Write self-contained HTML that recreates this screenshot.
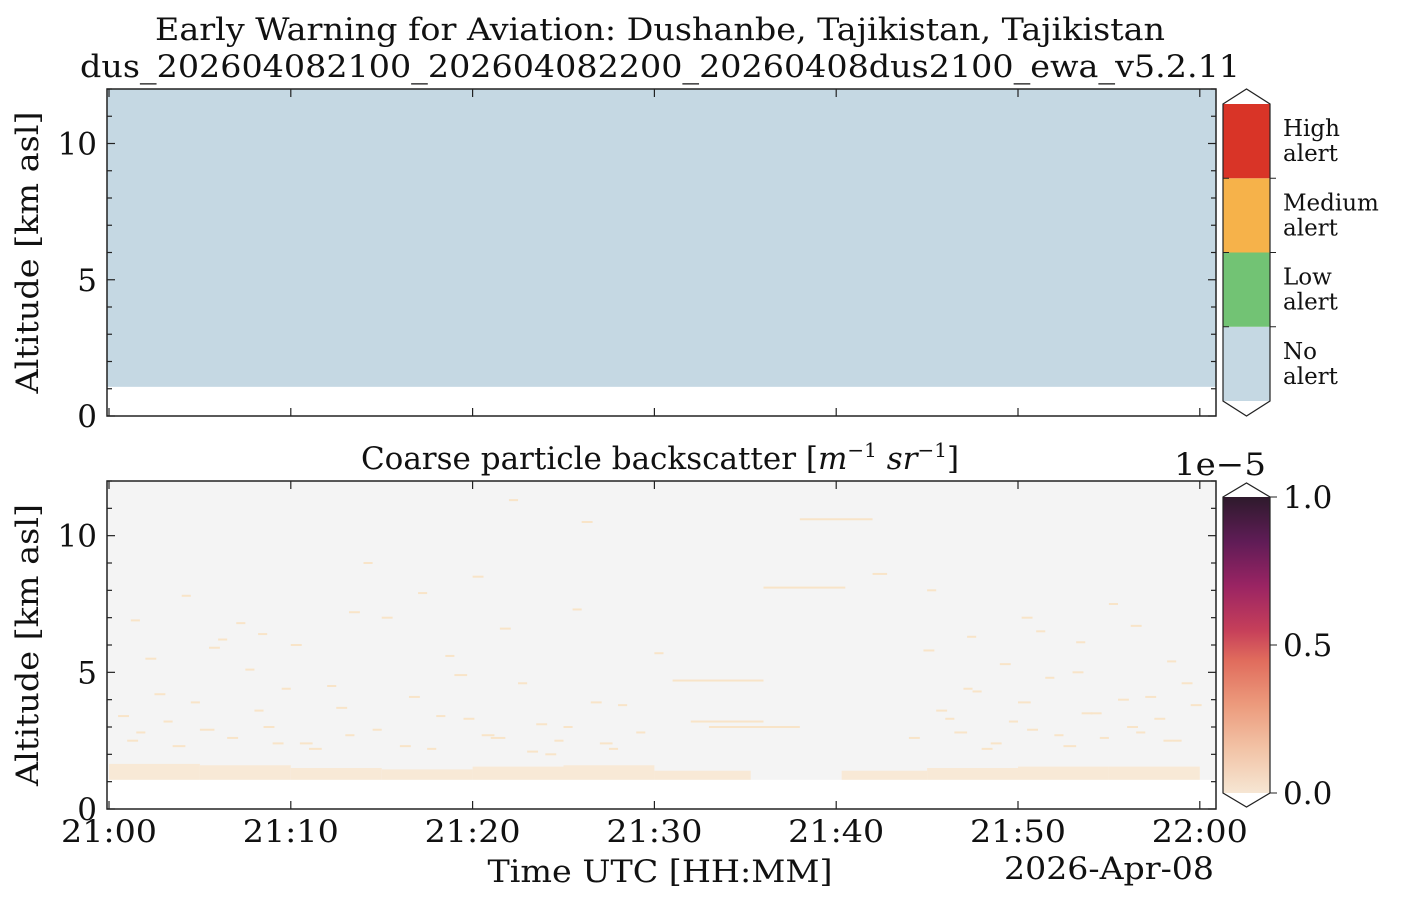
<!DOCTYPE html>
<html><head><meta charset="utf-8">
<style>
body{margin:0;background:#fff;width:1401px;height:904px;overflow:hidden}
svg text{font-family:"DejaVu Serif","Liberation Serif",serif;fill:#111}
</style></head>
<body>
<svg id="fig" width="1401" height="904" xmlns="http://www.w3.org/2000/svg">
<text x="660" y="40" font-size="31" text-anchor="middle" textLength="1010" lengthAdjust="spacingAndGlyphs">Early Warning for Aviation: Dushanbe, Tajikistan, Tajikistan</text>
<text x="660" y="77" font-size="31" text-anchor="middle" textLength="1160" lengthAdjust="spacingAndGlyphs">dus_202604082100_202604082200_20260408dus2100_ewa_v5.2.11</text>
<text x="660" y="469" font-size="31" text-anchor="middle">Coarse particle backscatter [<tspan font-style="italic">m</tspan><tspan font-size="20" dy="-12">−1</tspan><tspan dy="12"> </tspan><tspan font-style="italic">sr</tspan><tspan font-size="20" dy="-12">−1</tspan><tspan dy="12">]</tspan></text>
<g id="top"></g>
<g id="bot"></g>
<g id="cb1"></g>
<g id="cb2"></g>
<text x="660" y="882" font-size="31" text-anchor="middle" textLength="345" lengthAdjust="spacingAndGlyphs">Time UTC [HH:MM]</text>
<text x="1214" y="879" font-size="31" text-anchor="end" textLength="210" lengthAdjust="spacingAndGlyphs">2026-Apr-08</text>
<text x="1266" y="475" font-size="31" text-anchor="end" textLength="92" lengthAdjust="spacingAndGlyphs">1e−5</text>
</svg>
<script>
// data
const xTickLabels=["21:00","21:10","21:20","21:30","21:40","21:50","22:00"];
const xTickMinutes=[0,10,20,30,40,50,60];
const yTicks=[0,5,10];
const alertCategories=["No\nalert","Low\nalert","Medium\nalert","High\nalert"];
const alertColors=["#c5d8e3","#72c374","#f6b24a","#d93427"];
const alertLevelBase=1.07;
const alertLevel=[0];
const cbTicks=[0,0.5,1.0];
const cbTickLabels=["0.0","0.5","1.0"];
// near-surface aerosol layer: time bin start (min), layer top (km)
const layerTimes=[0,5,10,15,20,25,30,35.3,40.3,45,50,55,60];
const layerTops=[1.65,1.6,1.5,1.45,1.55,1.6,1.4,1.07,1.4,1.5,1.55,1.55,1.5];
// sparse streaks: minute, altitude km, length min
const streakMin=[1,3,5,8,9,11,13,16,18,21,23,25,27,29,31,33,2,6,12,15,19,24,28,44,46,48,50,52,54,56,58,47,49,51,53,55,57,4,14,22,26,30,45,59,7,17,20,32,38,42,10,36,
 0.5,1.5,2.5,3.5,4.5,6.5,7.5,8.5,9.5,10.5,12.5,14.5,16.5,17.5,19.5,20.5,22.5,23.5,24.5,26.5,27.5,45.5,46.5,47.5,48.5,49.5,50.5,51.5,52.5,53.5,54.5,55.5,56.5,57.5,58.5,59.5,1.2,5.5,8.2,13.2,18.5,21.5,25.5,44.8,47.2,50.2,53.2,56.2,58.2];
const streakAlt=[2.5,3.2,2.9,3.6,2.4,2.2,2.7,2.3,3.4,2.6,2.1,3.0,2.4,2.8,4.7,3.0,5.5,6.2,4.5,7.0,4.9,2.0,3.8,2.6,3.3,2.2,3.9,2.7,3.5,3.0,2.5,4.4,5.3,6.5,5.0,7.5,4.1,7.8,9.0,11.3,10.5,5.7,8.0,4.6,6.8,7.9,8.5,3.2,10.6,8.6,6.0,8.1,
 3.4,2.8,4.2,2.3,3.9,2.6,5.1,3.0,4.4,2.4,3.7,2.9,4.1,2.2,3.3,2.7,4.6,3.1,2.5,3.9,2.2,3.6,2.8,4.3,2.4,3.2,2.9,4.8,2.3,3.5,2.6,4.0,2.8,3.3,2.5,3.8,6.9,5.9,6.4,7.2,5.6,6.6,7.3,5.8,6.3,7.0,6.1,6.7,5.4];
const streakLen=[0.6,0.5,0.8,0.5,0.6,0.7,0.5,0.6,0.5,0.8,0.6,0.5,0.7,0.5,5,5,0.6,0.5,0.5,0.6,0.7,0.6,0.5,0.6,0.5,0.6,0.7,0.5,0.6,0.6,0.5,0.5,0.6,0.5,0.6,0.5,0.6,0.5,0.5,0.5,0.6,0.5,0.5,0.6,0.5,0.5,0.6,4,4,0.8,0.6,4.5,
 0.6,0.5,0.6,0.7,0.5,0.6,0.5,0.6,0.5,0.7,0.6,0.5,0.6,0.5,0.6,0.7,0.5,0.6,0.5,0.6,0.5,0.6,0.7,0.5,0.6,0.5,0.6,0.5,0.7,0.6,0.5,0.6,0.5,0.6,0.5,0.6,0.5,0.6,0.5,0.6,0.5,0.6,0.5,0.6,0.5,0.6,0.5,0.6,0.5];

const NS="http://www.w3.org/2000/svg";
function el(p,t,a){const e=document.createElementNS(NS,t);for(const k in a)e.setAttribute(k,a[k]);p.appendChild(e);return e;}
const X0=109,PX=18.18,AL=107,AR=1216;
const xs=m=>X0+m*PX;
function panel(top,bottom){return v=>bottom-(v/12)*(bottom-top);}
function axes(g,top,bottom,ys,labels){
  const f=el(g,"rect",{x:AL,y:top,width:AR-AL,height:bottom-top,fill:"none",stroke:"#222","stroke-width":1.5});
  
  for(let k=0;k<=12;k++){const y=ys(k);const big=k%5==0;
    el(g,"line",{x1:AL,x2:AL+(big?8:5),y1:y,y2:y,stroke:"#222","stroke-width":1.2});
    el(g,"line",{x1:AR,x2:AR-(big?8:5),y1:y,y2:y,stroke:"#222","stroke-width":1.2});}
  yTicks.forEach(v=>{const t=el(g,"text",{x:AL-10,y:ys(v)+11,"font-size":31,"text-anchor":"end"});t.textContent=v;
    });
  xTickMinutes.forEach((m,i)=>{const x=xs(m);
    el(g,"line",{x1:x,x2:x,y1:bottom,y2:bottom-8,stroke:"#222","stroke-width":1.2});
    el(g,"line",{x1:x,x2:x,y1:top,y2:top+8,stroke:"#222","stroke-width":1.2});
    if(labels){const t=el(g,"text",{x:x,y:bottom+33,"font-size":31,"text-anchor":"middle",textLength:96,lengthAdjust:"spacingAndGlyphs"});t.textContent=xTickLabels[i];
      }});
  const cy=(top+bottom)/2;
  const yl=el(g,"text",{x:38,y:cy,"font-size":31,"text-anchor":"middle",textLength:282,lengthAdjust:"spacingAndGlyphs",transform:`rotate(-90 38 ${cy})`});
  yl.textContent="Altitude [km asl]";
}
const gt=document.getElementById("top");const T1=89,B1=416;const ys1=panel(T1,B1);
const ar=el(gt,"rect",{x:AL,y:ys1(12),width:AR-AL,height:ys1(alertLevelBase)-ys1(12),fill:alertColors[alertLevel[0]]});

axes(gt,T1,B1,ys1,false);
const gb=document.getElementById("bot");const T2=481,B2=809;const ys2=panel(T2,B2);
const bg=el(gb,"rect",{x:AL,y:ys2(12),width:AR-AL,height:ys2(alertLevelBase)-ys2(12),fill:"#f4f4f4"});

for(let i=0;i<layerTimes.length-1;i++){
  if(layerTops[i]<=alertLevelBase)continue;
  const r=el(gb,"rect",{x:xs(layerTimes[i]),y:ys2(layerTops[i]),width:xs(layerTimes[i+1])-xs(layerTimes[i]),height:ys2(alertLevelBase)-ys2(layerTops[i]),fill:"#f8e9d6"});
  }
streakMin.forEach((m,i)=>{const r=el(gb,"rect",{x:xs(m),y:ys2(streakAlt[i])-1,width:streakLen[i]*PX,height:2,fill:"#f8e4c8"});
  });
axes(gb,T2,B2,ys2,true);
const c1=document.getElementById("cb1");const CX=1223,CW=47,ct=104,cbt=401;const seg=(cbt-ct)/4;
alertColors.forEach((c,i)=>{const y=cbt-(i+1)*seg;const r=el(c1,"rect",{x:CX,y:y,width:CW,height:seg,fill:c});
  
  alertCategories[i].split("\n").forEach((l,j)=>{const t=el(c1,"text",{x:1283,y:y+seg/2-5+j*25,"font-size":23});t.textContent=l;
    });
  if(i>0){el(c1,"line",{x1:CX+CW,x2:CX+CW+6,y1:cbt-i*seg,y2:cbt-i*seg,stroke:"#222"});el(c1,"line",{x1:CX,x2:CX+6,y1:cbt-i*seg,y2:cbt-i*seg,stroke:"#222"});}
});
el(c1,"path",{d:`M${CX} ${ct} L${CX+CW/2} 89 L${CX+CW} ${ct} L${CX+CW} ${cbt} L${CX+CW/2} 416 L${CX} ${cbt} Z`,fill:"none",stroke:"#222","stroke-width":1.2});
const c2=document.getElementById("cb2");const defs=el(c2,"defs",{});
const lg=el(defs,"linearGradient",{id:"rk",x1:0,y1:1,x2:0,y2:0});
[["0","#f6e6d3"],["0.15","#f2c3a6"],["0.3","#ec9a7c"],["0.45","#e06b5c"],["0.55","#c63f5a"],["0.7","#9a2463"],["0.85","#5f1c56"],["1","#2e1a2c"]].forEach(s=>el(lg,"stop",{offset:s[0],"stop-color":s[1]}));
const c2t=497,c2b=793;
el(c2,"rect",{x:CX,y:c2t,width:CW,height:c2b-c2t,fill:"url(#rk)"});
el(c2,"path",{d:`M${CX} ${c2t} L${CX+CW/2} 483 L${CX+CW} ${c2t} L${CX+CW} ${c2b} L${CX+CW/2} 807 L${CX} ${c2b} Z`,fill:"none",stroke:"#222","stroke-width":1.2});
cbTicks.forEach((v,i)=>{const y=c2b-v*(c2b-c2t);
  el(c2,"line",{x1:CX+CW,x2:CX+CW+7,y1:y,y2:y,stroke:"#222"});
  const t=el(c2,"text",{x:1283,y:y+11,"font-size":31});t.textContent=cbTickLabels[i];
  });
</script>
</body></html>
